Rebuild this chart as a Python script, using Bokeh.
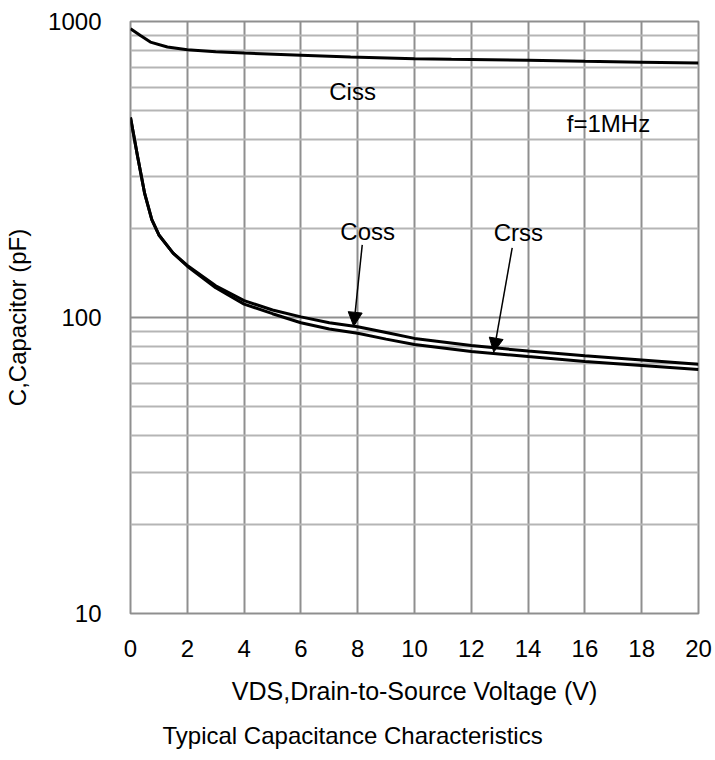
from bokeh.plotting import figure
from bokeh.models import Range1d, FixedTicker, Label, Arrow, NormalHead, Title
from bokeh.embed import file_html
from bokeh.resources import INLINE

# Data
ciss_v = [0, 0.35, 0.7, 1.3, 2, 3, 4, 6, 7.75, 10, 11.3, 14, 16, 18, 20]
ciss_c = [945, 897, 852, 820, 803, 791, 782, 769, 758, 749, 745, 740, 734, 729, 724]

coss_v = [0, 0.25, 0.5, 0.75, 1, 1.5, 2, 3, 4, 5, 6, 7, 8, 9, 10, 12, 14, 16, 18, 20]
coss_c = [474, 350, 262, 214, 190, 165, 150, 128, 114, 106, 100.5, 96, 93, 89, 85, 80.4, 77, 74.2, 71.8, 69.5]

crss_v = [0, 0.25, 0.5, 0.75, 1, 1.5, 2, 3, 4, 5, 6, 7, 8, 9, 10, 12, 14, 16, 18, 20]
crss_c = [474, 350, 262, 214, 190, 165, 149, 126, 111, 103, 96, 91.5, 88.5, 84.5, 81, 76.8, 73.8, 71, 68.8, 66.7]

x_ticks = [0, 2, 4, 6, 8, 10, 12, 14, 16, 18, 20]
y_ticks = [10, 100, 1000]
y_minor = [20, 30, 40, 50, 60, 70, 80, 90, 200, 300, 400, 500, 600, 700, 800, 900]

# label positions (data coords)
labels = [("Ciss", 7.82, 582), ("f=1MHz", 16.83, 451), ("Coss", 8.35, 195), ("Crss", 13.66, 194)]
arrows = [(8.16, 176, 7.86, 93.4), (13.44, 172, 12.79, 76.4)]

FONT = "Liberation Sans"
GRID = "#8f8f8f"

p = figure(width=715, height=760, output_backend="svg", toolbar_location=None,
           y_axis_type="log", x_range=Range1d(0, 20), y_range=Range1d(10, 1000),
           min_border_left=130, min_border_right=17, min_border_top=21, min_border_bottom=144)
p.background_fill_color = "white"
p.border_fill_color = "white"
p.outline_line_color = GRID
p.outline_line_width = 2

p.xaxis.ticker = FixedTicker(ticks=x_ticks)
p.yaxis.ticker = FixedTicker(ticks=y_ticks, minor_ticks=y_minor)
p.xgrid.grid_line_color = GRID
p.xgrid.grid_line_width = 2
p.ygrid.grid_line_color = GRID
p.ygrid.grid_line_width = 2
p.ygrid.minor_grid_line_color = "#b5b5b5"
p.ygrid.minor_grid_line_width = 2

for ax in (p.xaxis, p.yaxis):
    ax.axis_line_color = None
    ax.major_tick_line_color = None
    ax.minor_tick_line_color = None
    ax.major_label_text_font = FONT
    ax.major_label_text_font_size = "24px"
    ax.major_label_text_color = "black"
    ax.axis_label_text_font = FONT
    ax.axis_label_text_font_style = "normal"
    ax.axis_label_text_color = "black"

p.xaxis.axis_label = "VDS,Drain-to-Source Voltage (V)"
p.yaxis.axis_label = "C,Capacitor (pF)"
p.xaxis.axis_label_text_font_size = "25px"
p.yaxis.axis_label_text_font_size = "24px"
p.xaxis.major_label_standoff = 20
p.yaxis.major_label_standoff = 23
p.xaxis.axis_label_standoff = 17
p.yaxis.axis_label_standoff = 14
p.yaxis.major_label_overrides = {10: "10", 100: "100", 1000: "1000"}

p.line(ciss_v, ciss_c, line_color="black", line_width=3)
p.line(coss_v, coss_c, line_color="black", line_width=3)
p.line(crss_v, crss_c, line_color="black", line_width=3)

for t, x, y in labels:
    p.add_layout(Label(x=x, y=y, text=t, text_align="center", text_baseline="middle",
                       text_font=FONT, text_font_size="24px", text_color="black"))

for x0, y0, x1, y1 in arrows:
    p.add_layout(Arrow(x_start=x0, y_start=y0, x_end=x1, y_end=y1, line_width=1.5,
                       line_color="black",
                       end=NormalHead(size=14, fill_color="black", line_color="black")))

title = Title(text="Typical Capacitance Characteristics", align="left", offset=32,
              text_font=FONT, text_font_size="24px", text_font_style="normal",
              text_color="black", standoff=24)
p.add_layout(title, "below")

open("out.html", "w").write(file_html(p, INLINE))
